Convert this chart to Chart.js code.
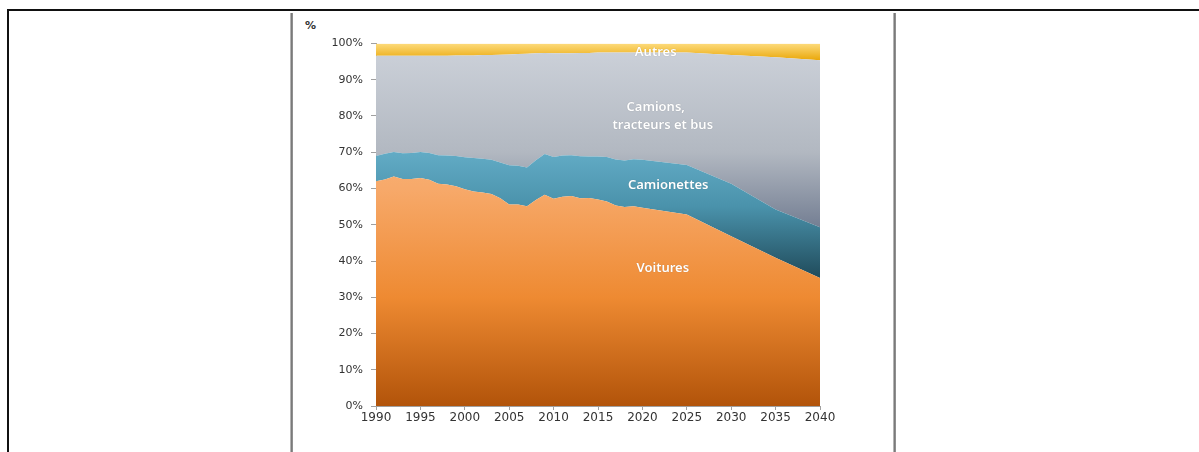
<!DOCTYPE html>
<html>
<head>
<meta charset="utf-8">
<script src="https://cdn.jsdelivr.net/npm/chart.js@4"></script>
<style>
  html, body { margin: 0; padding: 0; background: #fff; }
  body { width: 1199px; height: 452px; position: relative; overflow: hidden; }
  #chart { position: absolute; left: 0; top: 0; }
  .frame { position: absolute; }
  #top-line { left: 7px; top: 9px; width: 1192px; height: 2px; background: #111; }
  #left-line { left: 7px; top: 9px; width: 2px; height: 443px; background: #111; }
  .cell-line { top: 13px; width: 3px; height: 439px; background: linear-gradient(to right, #d0d0d0, #7a7a7a, #9a9a9a); }
  #pct { position: absolute; left: 305px; top: 19px; font: bold 11px "DejaVu Sans", sans-serif; color: #333; }
</style>
</head>
<body>
<div class="frame" id="top-line"></div>
<div class="frame" id="left-line"></div>
<div class="frame cell-line" style="left:290px"></div>
<div class="frame cell-line" style="left:893px"></div>
<div id="pct">%</div>
<canvas id="chart" width="1199" height="452"></canvas>
<script>
const years = [1990, 1991, 1992, 1993, 1994, 1995, 1996, 1997, 1998, 1999,
  2000, 2001, 2002, 2003, 2004, 2005, 2006, 2007, 2008, 2009,
  2010, 2011, 2012, 2013, 2014, 2015, 2016, 2017, 2018, 2019,
  2020, 2025, 2030, 2035, 2040];

// parts en % (empilées)
const voitures = [62.0, 62.5, 63.3, 62.6, 62.6, 62.9, 62.4, 61.3, 61.1, 60.6,
  59.8, 59.2, 58.9, 58.5, 57.3, 55.6, 55.6, 55.1, 56.8, 58.3,
  57.2, 57.7, 57.9, 57.3, 57.4, 57.0, 56.4, 55.3, 54.9, 55.1,
  54.7, 52.8, 46.8, 40.9, 35.3];

const camionettes = [7.0, 7.1, 6.8, 7.1, 7.2, 7.2, 7.4, 7.9, 8.0, 8.4,
  8.8, 9.2, 9.3, 9.4, 9.9, 10.8, 10.7, 10.7, 11.0, 11.2,
  11.5, 11.4, 11.3, 11.6, 11.4, 11.8, 12.3, 12.7, 12.8, 13.0,
  13.2, 13.7, 14.5, 13.3, 14.0];

const camions = [27.6, 27.0, 26.5, 26.9, 26.8, 26.5, 26.8, 27.4, 27.5, 27.7,
  28.1, 28.3, 28.6, 28.9, 29.7, 30.6, 30.8, 31.4, 29.5, 27.9,
  28.6, 28.2, 28.1, 28.5, 28.6, 28.7, 28.8, 29.5, 29.8, 29.4,
  29.6, 31.0, 35.5, 42.0, 46.1];

const autres = [3.4, 3.4, 3.4, 3.4, 3.4, 3.4, 3.4, 3.4, 3.4, 3.3,
  3.3, 3.3, 3.2, 3.2, 3.1, 3.0, 2.9, 2.8, 2.7, 2.6,
  2.7, 2.7, 2.7, 2.6, 2.6, 2.5, 2.5, 2.5, 2.5, 2.5,
  2.5, 2.5, 3.2, 3.8, 4.6];

const yTicks = [0, 10, 20, 30, 40, 50, 60, 70, 80, 90, 100];

// étiquettes posées dans le graphique : [texte, année, %]
const areaLabels = [
  ['Autres', 2021.5, 97.6],
  ['Camions,', 2021.5, 82.4],
  ['tracteurs et bus', 2022.3, 77.4],
  ['Camionettes', 2022.9, 61.0],
  ['Voitures', 2022.3, 38.1]
];

function gradient(stops) {
  return (context) => {
    const { ctx, chartArea } = context.chart;
    if (!chartArea) return stops[0][1];
    const g = ctx.createLinearGradient(0, chartArea.top, 0, chartArea.bottom);
    stops.forEach(([pos, col]) => g.addColorStop(pos, col));
    return g;
  };
}

function points(values) {
  return years.map((y, i) => ({ x: y, y: values[i] }));
}

const labelPlugin = {
  id: 'areaLabels',
  afterDatasetsDraw(chart) {
    const { ctx, scales } = chart;
    ctx.save();
    ctx.font = '600 13px "Noto Sans", sans-serif';
    ctx.fillStyle = '#ffffff';
    ctx.textAlign = 'center';
    ctx.textBaseline = 'middle';
    ctx.shadowColor = 'rgba(0,0,0,0.25)';
    ctx.shadowBlur = 1;
    areaLabels.forEach(([txt, yr, v]) => {
      ctx.fillText(txt, scales.x.getPixelForValue(yr), scales.y.getPixelForValue(v));
    });
    ctx.restore();
  }
};

const common = { pointRadius: 0, borderWidth: 0, tension: 0 };

new Chart(document.getElementById('chart'), {
  type: 'line',
  data: {
    datasets: [
      { ...common, label: 'Voitures', data: points(voitures), fill: 'origin',
        backgroundColor: gradient([[0, '#fcc893'], [0.4, '#f7a96a'], [0.7, '#ee8a32'], [1, '#b2540a']]) },
      { ...common, label: 'Camionettes', data: points(camionettes), fill: '-1',
        backgroundColor: gradient([[0, '#74bbd3'], [0.3, '#62abc5'], [0.45, '#4a92ab'], [0.65, '#1f4a5a'], [1, '#143540']]) },
      { ...common, label: 'Camions, tracteurs et bus', data: points(camions), fill: '-1',
        backgroundColor: gradient([[0, '#cdd2da'], [0.3, '#b2b8c1'], [0.52, '#707b90'], [1, '#4f596e']]) },
      { ...common, label: 'Autres', data: points(autres), fill: '-1',
        backgroundColor: gradient([[0, '#fddb7c'], [0.05, '#e8a300'], [1, '#c08000']]) }
    ]
  },
  options: {
    responsive: false,
    animation: false,
    devicePixelRatio: 1,
    layout: { padding: { left: 316, right: 379, top: 43.5, bottom: 21 } },
    plugins: { legend: { display: false }, tooltip: { enabled: false } },
    scales: {
      x: {
        type: 'linear', min: 1990, max: 2040,
        afterFit: s => { s.height = 25; },
        grid: { drawOnChartArea: false, color: '#a0a0a0', tickLength: 4 },
        border: { color: '#a0a0a0' },
        ticks: { stepSize: 5, padding: 1, color: '#333333', maxRotation: 0,
          font: { family: 'DejaVu Sans', size: 12 }, callback: v => String(v) }
      },
      y: {
        stacked: true, min: 0, max: 100,
        afterFit: s => { s.width = 60; },
        afterBuildTicks: s => { s.ticks = yTicks.map(v => ({ value: v })); },
        grid: { drawOnChartArea: false, color: '#a0a0a0', tickLength: 5 },
        border: { color: '#a0a0a0' },
        ticks: { padding: 8, color: '#333333',
          font: { family: 'DejaVu Sans', size: 11 }, callback: v => v + '%' }
      }
    }
  },
  plugins: [labelPlugin]
});
</script>
</body>
</html>
